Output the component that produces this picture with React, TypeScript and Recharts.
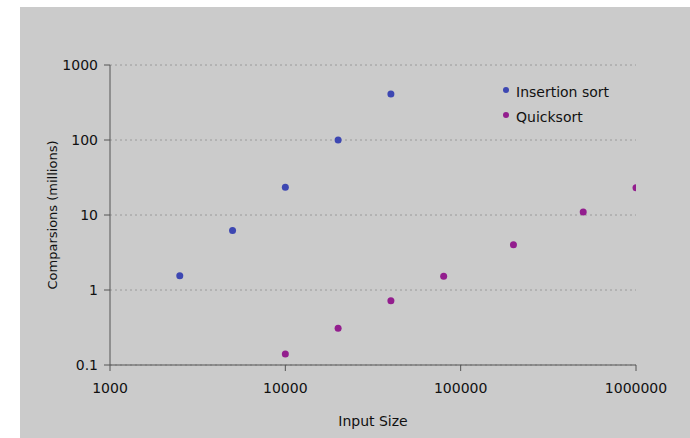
import {
  CartesianGrid,
  Scatter,
  ScatterChart,
  XAxis,
  YAxis,
} from "recharts";

const xTicks = [1000, 10000, 100000, 1000000];
const yTicks = [0.1, 1, 10, 100, 1000];

const insertionSizes = [2500, 5000, 10000, 20000, 40000];
const insertionCompares = [1.55, 6.2, 23.5, 100, 410];

const quickSizes = [10000, 20000, 40000, 80000, 200000, 500000, 1000000];
const quickCompares = [0.14, 0.31, 0.72, 1.53, 4.0, 11, 23];

const insertionData = insertionSizes.map((n, i) => ({ n, c: insertionCompares[i] }));
const quickData = quickSizes.map((n, i) => ({ n, c: quickCompares[i] }));

const BLUE = "#3d47b2";
const PURPLE = "#931e8e";
const FONT = "'DejaVu Sans', sans-serif";

function LegendBox() {
  const items = [
    { name: "Insertion sort", color: BLUE },
    { name: "Quicksort", color: PURPLE },
  ];
  return (
    <div
      style={{
        position: "absolute",
        left: 503,
        top: 79,
        fontFamily: FONT,
        fontSize: 14,
        color: "#111",
      }}
    >
      {items.map((it) => (
        <div key={it.name} style={{ display: "flex", alignItems: "center", height: 25 }}>
          <span
            style={{
              width: 6,
              height: 6,
              borderRadius: 3,
              background: it.color,
              marginRight: 7,
              marginTop: -4,
            }}
          />
          {it.name}
        </div>
      ))}
    </div>
  );
}

const dot = (color: string) => (props: any) => (
  <circle cx={props.cx} cy={props.cy} r={3.5} fill={color} />
);

export default function App() {
  return (
    <div style={{ position: "absolute", left: 0, top: 0, width: 690, height: 438, background: "#fff" }}>
      <div
        style={{ position: "absolute", left: 20, top: 7, width: 670, height: 431, background: "#cbcbcb" }}
      />
      <div style={{ position: "absolute", left: 0, top: 0 }}>
        <ScatterChart
          width={690}
          height={438}
          margin={{ top: 65, right: 54, left: 0, bottom: 0 }}
        >
          <CartesianGrid
            vertical={false}
            stroke="#9a9a9a"
            strokeDasharray="2 3"
          />
          <XAxis
            type="number"
            dataKey="n"
            scale="log"
            domain={[1000, 1000000]}
            ticks={xTicks}
            height={73}
            stroke="#555"
            tickSize={6}
            tick={{ fill: "#111", fontSize: 14, fontFamily: FONT, dy: 10 }}
            label={{
              value: "Input Size",
              position: "insideBottom",
              offset: 12,
              fill: "#111",
              fontSize: 14,
              fontFamily: FONT,
            }}
            allowDataOverflow
          />
          <YAxis
            type="number"
            dataKey="c"
            scale="log"
            domain={[0.1, 1000]}
            ticks={yTicks}
            width={110}
            stroke="#555"
            tickSize={6}
            tick={{ fill: "#111", fontSize: 14, fontFamily: FONT, dx: -4 }}
            label={{
              value: "Comparsions (millions)",
              angle: -90,
              position: "insideLeft",
              offset: 52,
              style: { textAnchor: "middle" },
              fill: "#111",
              fontSize: 13,
              fontFamily: FONT,
            }}
            allowDataOverflow
          />
          <Scatter
            name="Insertion sort"
            data={insertionData}
            fill={BLUE}
            shape={dot(BLUE)}
            isAnimationActive={false}
          />
          <Scatter
            name="Quicksort"
            data={quickData}
            fill={PURPLE}
            shape={dot(PURPLE)}
            isAnimationActive={false}
          />
        </ScatterChart>
      </div>
      <LegendBox />
    </div>
  );
}
